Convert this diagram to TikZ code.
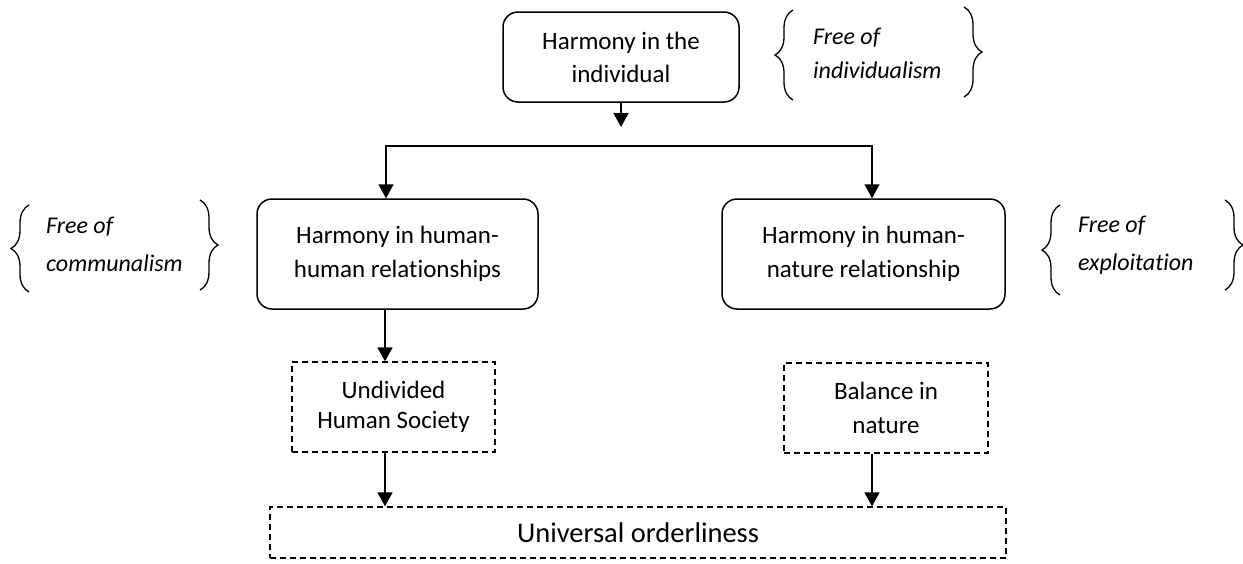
\documentclass[tikz,border=0pt]{standalone}
\usepackage{fontspec}
\setmainfont{Carlito}[Ligatures=CommonOff]
\usetikzlibrary{arrows.meta,decorations.pathreplacing}
\tikzset{
  rbox/.style={draw, line width=1.5pt, rounded corners=15pt, align=center, inner sep=0pt,
    font=\fontsize{25}{34}\selectfont},
  dbox/.style={draw, line width=1.3pt, dash pattern=on 6pt off 4pt, align=center, inner sep=0pt,
    font=\fontsize{25}{30}\selectfont},
  arr/.style={line width=1.5pt, -{Triangle[length=14pt,width=15pt]}},
  darr/.style={line width=1.5pt, {Triangle[length=14pt,width=15pt]}-{Triangle[length=14pt,width=15pt]}},
  brc/.style={line width=1.3pt, decorate, decoration={brace, amplitude=18pt}},
  note/.style={anchor=north west, align=left, inner sep=0pt}
}
\begin{document}
\begin{tikzpicture}[x=1pt,y=-1pt]
\useasboundingbox (0,0) rectangle (1243,563);
\fill[white] (0,0) rectangle (1243,563);

% boxes
\node[rbox, minimum width=236pt, minimum height=90pt] (top) at (621,57) {Harmony in the\\[-1pt]individual};
\node[rbox, minimum width=281pt, minimum height=110pt] (L) at (397.5,254) {Harmony in human-\\human relationships};
\node[rbox, minimum width=283pt, minimum height=110pt] (R) at (863.5,254) {Harmony in human-\\nature relationship};
\node[dbox, minimum width=203pt, minimum height=90pt] (ud) at (393.5,407) {Undivided\\Human Society};
\node[dbox, minimum width=204pt, minimum height=90pt, font=\fontsize{25}{34}\selectfont] (bal) at (886,408) {Balance in\\nature};
\node[dbox, minimum width=736pt, minimum height=51pt, font=\fontsize{28.5}{33}\selectfont] (U) at (638,532.5) {Universal orderliness};

% notes
\node[note, font=\fontsize{24}{34}\selectfont\itshape] (n1) at (813,28) {Free of\\individualism};
\node[note, font=\fontsize{24}{38}\selectfont\itshape] (n2) at (46,217) {Free of\\communalism};
\node[note, font=\fontsize{24}{38}\selectfont\itshape] (n3) at (1078,216) {Free of\\exploitation};

% braces
\draw[brc] (793,100) -- (793,10);
\draw[brc] (964,7) -- (964,97);
\draw[brc] (29,292) -- (29,205);
\draw[brc] (200,200) -- (200,290);
\draw[brc] (1060,295) -- (1060,205);
\draw[brc] (1225,200) -- (1225,290);

% connectors
\coordinate (j) at (621,127);
\coordinate (hl) at (386,146);
\coordinate (hr) at (872,146);
\coordinate (la) at (385,0);
\coordinate (ra) at (872,0);
\draw[arr] (top) -- (j);
\draw[darr] (L.north -| hl) -- (hl) -- (hr) -- (R.north -| hr);
\draw[arr] (L.south -| la) -- (ud.north -| la);
\draw[arr] (ud.south -| la) -- (U.north -| la);
\draw[arr] (bal.south -| ra) -- (U.north -| ra);
\end{tikzpicture}
\end{document}
